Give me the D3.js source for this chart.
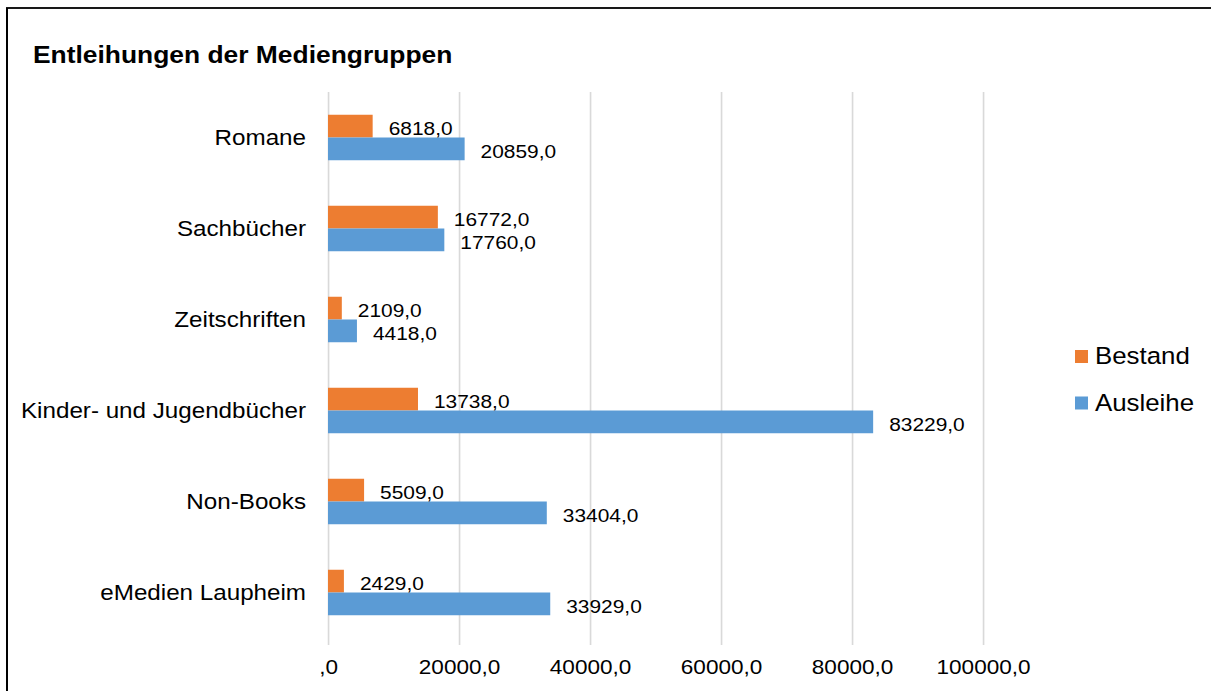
<!DOCTYPE html>
<html>
<head>
<meta charset="utf-8">
<script src="https://cdn.jsdelivr.net/npm/d3@7"></script>
<style>
  body { margin: 0; background: #fff; }
  text { font-family: "Liberation Sans", Arial, sans-serif; fill: #000; }
</style>
</head>
<body>
<div id="graph"></div>
<script>
var categories = ["Romane", "Sachbücher", "Zeitschriften", "Kinder- und Jugendbücher", "Non-Books", "eMedien Laupheim"];
var series = ["Bestand", "Ausleihe"];
var bestand = [6818, 16772, 2109, 13738, 5509, 2429];
var ausleihe = [20859, 17760, 4418, 83229, 33404, 33929];
var tick_values = [0, 20000, 40000, 60000, 80000, 100000];
var tick_labels = [",0", "20000,0", "40000,0", "60000,0", "80000,0", "100000,0"];
var colors = {"Bestand": "#ED7D31", "Ausleihe": "#5B9BD5"};

//the source picture is stretched a bit horizontally, so draw in a narrower box
var stretch = 1.1;
var width = 1211;
var height = 691;
var vw = width / stretch;

var top_y = 92;
var bottom_y = 638;
var grid_bottom = 645;
var x0 = 328 / stretch;
var x1 = 983 / stretch;

var svg = d3.select("#graph").append("svg")
  .attr("width", width)
  .attr("height", height)
  .attr("viewBox", "0 0 " + vw + " " + height)
  .attr("preserveAspectRatio", "none");

svg.append("rect")
  .attr("width", vw)
  .attr("height", height)
  .attr("fill", "#fff");

//outer frame, runs off the right and bottom edge
svg.append("rect")
  .attr("x", 7 / stretch)
  .attr("y", 8)
  .attr("width", vw + 50)
  .attr("height", height + 50)
  .attr("fill", "none")
  .attr("stroke", "#000")
  .attr("stroke-width", 1.8);

svg.append("text")
  .attr("x", 33 / stretch)
  .attr("y", 63)
  .attr("font-size", 24)
  .attr("font-weight", "bold")
  .text("Entleihungen der Mediengruppen");

var x = d3.scaleLinear()
  .domain([0, 100000])
  .range([x0, x1]);

var y = d3.scaleBand()
  .domain(categories)
  .range([top_y, bottom_y])
  .paddingInner(0.5)
  .paddingOuter(0.25);

var y_sub = d3.scaleBand()
  .domain(series)
  .range([0, y.bandwidth()]);

//gridlines + tick labels
var x_axis = svg.append("g")
  .attr("transform", "translate(0," + grid_bottom + ")")
  .call(d3.axisBottom(x)
    .tickValues(tick_values)
    .tickFormat(function(d, i) { return tick_labels[i]; })
    .tickSizeInner(-(grid_bottom - top_y))
    .tickSizeOuter(0)
    .tickPadding(14));
x_axis.select(".domain").remove();
x_axis.selectAll(".tick line")
  .attr("stroke", "#d9d9d9")
  .attr("stroke-width", 1.5);
x_axis.selectAll(".tick text")
  .attr("font-size", 20.5)
  .attr("font-family", null)
  .attr("fill", "#000");

//category labels
var y_axis = svg.append("g")
  .attr("transform", "translate(" + x0 + ",0)")
  .call(d3.axisLeft(y).tickSize(0).tickPadding(20));
y_axis.select(".domain").remove();
y_axis.selectAll(".tick text")
  .attr("font-size", 22)
  .attr("font-family", null)
  .attr("fill", "#000");

var rows = categories.map(function(c, i) {
  return {cat: c, values: [{key: "Bestand", value: bestand[i]}, {key: "Ausleihe", value: ausleihe[i]}]};
});

var groups = svg.selectAll(".cat")
  .data(rows)
  .enter().append("g")
  .attr("class", "cat")
  .attr("transform", function(d) { return "translate(0," + y(d.cat) + ")"; });

groups.selectAll("rect")
  .data(function(d) { return d.values; })
  .enter().append("rect")
  .attr("x", x(0))
  .attr("y", function(d) { return y_sub(d.key); })
  .attr("width", function(d) { return x(d.value) - x(0); })
  .attr("height", y_sub.bandwidth())
  .attr("fill", function(d) { return colors[d.key]; });

//value labels
groups.selectAll("text")
  .data(function(d) { return d.values; })
  .enter().append("text")
  .attr("x", function(d) { return x(d.value) + 16 / stretch; })
  .attr("y", function(d) { return y_sub(d.key) + y_sub.bandwidth() / 2 + 9.3; })
  .attr("font-size", 19)
  .text(function(d) { return d.value.toFixed(1).replace(".", ","); });

//legend
var legend = svg.selectAll(".legend")
  .data(series)
  .enter().append("g")
  .attr("class", "legend")
  .attr("transform", function(d, i) { return "translate(0," + (364 + i * 46.5) + ")"; });

legend.append("rect")
  .attr("x", 1075 / stretch)
  .attr("y", -14)
  .attr("width", 13 / stretch)
  .attr("height", 13)
  .attr("fill", function(d) { return colors[d]; });

legend.append("text")
  .attr("x", 1095 / stretch)
  .attr("y", 0)
  .attr("font-size", 23.5)
  .text(function(d) { return d; });
</script>
</body>
</html>
